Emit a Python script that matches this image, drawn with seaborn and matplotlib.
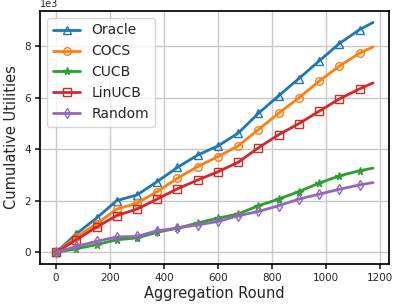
import seaborn as sns
import matplotlib
matplotlib.use('Agg')
import matplotlib.pyplot as plt
import pandas as pd

sns.set_theme(style="ticks", rc={"axes.grid": True, "grid.color": "#c8c8c8",
                                 "xtick.major.size": 3.5, "ytick.major.size": 3.5,
                                 "xtick.major.pad": 3, "ytick.major.pad": 3})

rounds = [0, 75, 150, 225, 300, 375, 450, 525, 600, 675, 750, 825, 900, 975, 1050, 1125, 1175]
oracle = [0, 720, 1330, 2010, 2230, 2750, 3300, 3780, 4130, 4630, 5400, 6080, 6750, 7430, 8110, 8650, 8930]
cocs = [0, 600, 1110, 1680, 1910, 2360, 2880, 3330, 3720, 4130, 4770, 5400, 6000, 6650, 7230, 7740, 7980]
cucb = [0, 140, 300, 490, 560, 780, 940, 1140, 1330, 1490, 1810, 2070, 2360, 2690, 2970, 3170, 3270]
linucb = [0, 490, 980, 1430, 1680, 2070, 2470, 2810, 3130, 3500, 4060, 4570, 5000, 5480, 5960, 6350, 6580]
rand = [0, 230, 430, 600, 620, 840, 940, 1070, 1200, 1420, 1590, 1810, 2070, 2260, 2450, 2620, 2710]

names = ['Oracle', 'COCS', 'CUCB', 'LinUCB', 'Random']
series = [oracle, cocs, cucb, linucb, rand]
markers = ['^', 'o', '*', 's', 'd']
colors = sns.color_palette("tab10")

fig, ax = plt.subplots(figsize=(3.94, 3.04), dpi=100)
for name, vals, mk, c in zip(names, series, markers, colors[:5]):
    df = pd.DataFrame({'round': rounds, 'util': vals})
    sns.lineplot(data=df, x='round', y='util', ax=ax, label=name, color=c, lw=2,
                 marker=mk, markersize=5.5, markerfacecolor='none', markeredgecolor=c,
                 markeredgewidth=1, markevery=slice(0, 16))

ax.ticklabel_format(axis='y', style='sci', scilimits=(3, 3))
ax.set_xticks([0, 200, 400, 600, 800, 1000, 1200])
ax.set_xlabel('Aggregation Round', fontsize=10.5, labelpad=2)
ax.set_ylabel('Cumulative Utilities', fontsize=10.5, labelpad=4)
ax.tick_params(labelsize=7.5)
ax.yaxis.get_offset_text().set_fontsize(7)
for s in ax.spines.values():
    s.set_color('black')
ax.legend(loc='upper left', fontsize=10, handlelength=2, framealpha=0.8)

fig.subplots_adjust(left=0.102, right=0.987, bottom=0.132, top=0.964)
plt.savefig('out.png', dpi=100)
